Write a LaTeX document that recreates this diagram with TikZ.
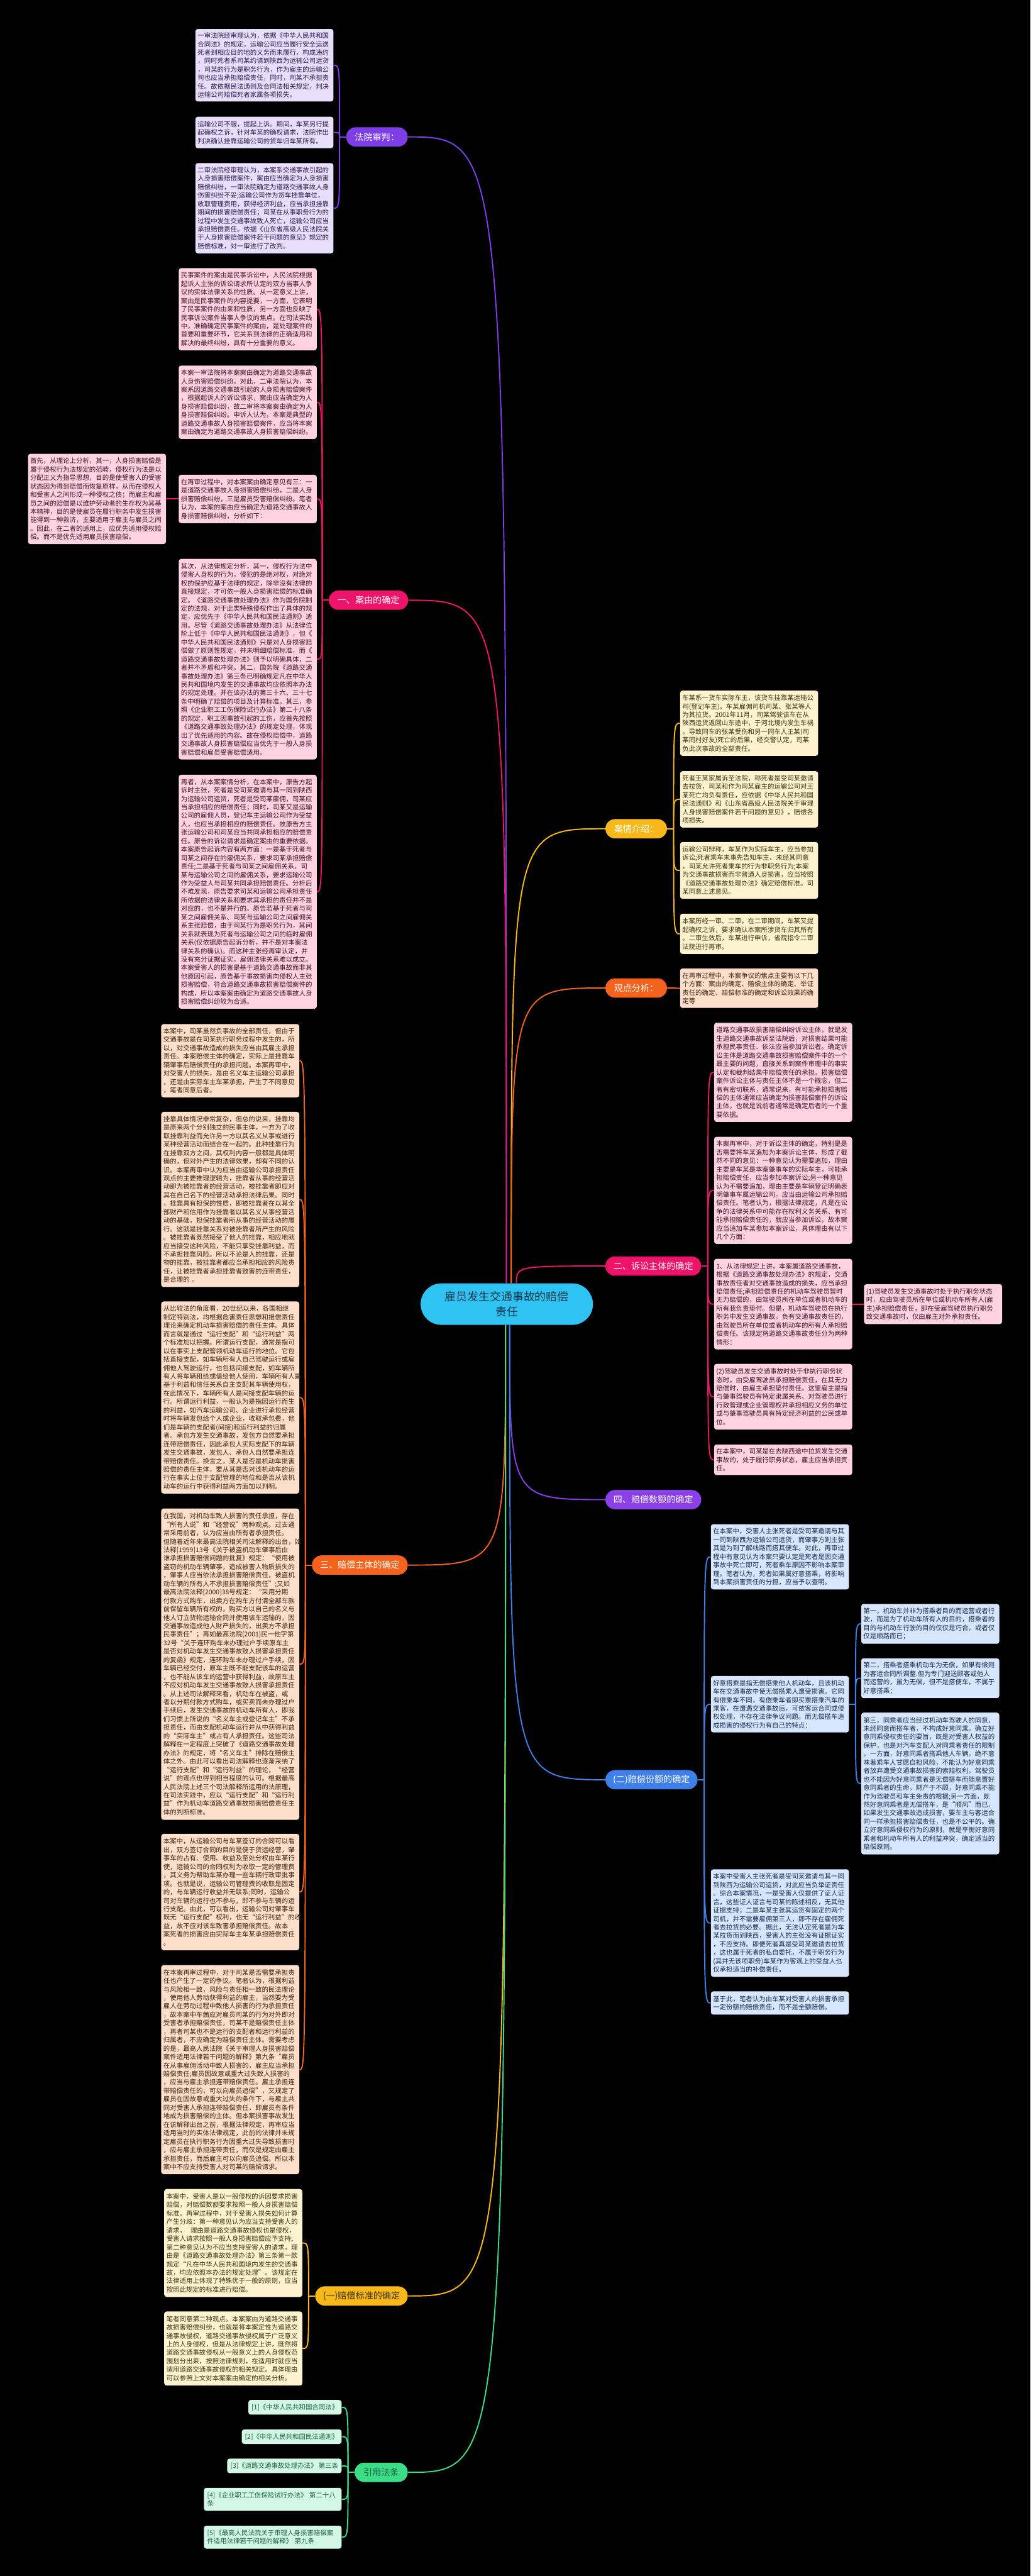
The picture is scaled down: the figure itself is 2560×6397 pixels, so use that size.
\documentclass[tikz,border=0pt]{standalone}
\usepackage{fontspec}
\setmainfont{Noto Sans CJK SC}
\definecolor{cpur}{HTML}{7D3EE6}
\definecolor{cpur2}{HTML}{8A40E6}
\definecolor{fpur}{HTML}{E8DEFB}
\definecolor{tpur}{HTML}{2A1848}
\definecolor{cpink}{HTML}{EE1469}
\definecolor{fpink}{HTML}{FFD2E2}
\definecolor{tpink}{HTML}{3D1224}
\definecolor{corg}{HTML}{F4621E}
\definecolor{forg}{HTML}{FEDFCB}
\definecolor{torg}{HTML}{3D2012}
\definecolor{camb}{HTML}{F8B819}
\definecolor{famb}{HTML}{FFF2CE}
\definecolor{tamb}{HTML}{3A3010}
\definecolor{cgrn}{HTML}{3CDD87}
\definecolor{fgrn}{HTML}{D3F7E5}
\definecolor{tgrn}{HTML}{17603E}
\definecolor{cblu}{HTML}{3F7FEA}
\definecolor{fblu}{HTML}{D7E6FD}
\definecolor{tblu}{HTML}{172A4D}
\definecolor{ccyan}{HTML}{2FC3F4}
\definecolor{tcyan}{HTML}{18384A}
\newcommand\bfnt{\fontsize{8.15pt}{10.5pt}\selectfont}
\newcommand\lfnt{\fontsize{11pt}{13pt}\selectfont}
\newcommand\cfnt{\fontsize{14pt}{19pt}\selectfont}
\newcommand\kidl[3]{\draw[con,#1] (#2) .. controls (#2 |- #3.east) .. (#3.east);}
\newcommand\kidr[3]{\draw[con,#1] (#2) .. controls (#2 |- #3.west) .. (#3.west);}
\begin{document}
\begin{tikzpicture}[x=0.5pt,y=-0.5pt,
 box/.style={rectangle,rounded corners=3pt,align=left,text width=166pt,inner xsep=2.75pt,inner ysep=0pt,font=\bfnt},
 bpur/.style={box,fill=fpur,text=tpur},
 bpink/.style={box,fill=fpink,text=tpink},
 borg/.style={box,fill=forg,text=torg},
 bamb/.style={box,fill=famb,text=tamb},
 bblu/.style={box,fill=fblu,text=tblu},
 gbox/.style={rectangle,rounded corners=3pt,inner xsep=4pt,inner ysep=0pt,minimum height=18pt,fill=fgrn,text=tgrn,font=\bfnt,anchor=east},
 lab/.style={rectangle,rounded corners=12pt,minimum height=24pt,inner xsep=0pt,font=\lfnt,text=white},
 con/.style={line width=1.5pt}]
\useasboundingbox (0,0) rectangle (2560,6397);
\fill[black] (0,0) rectangle (2560,6397);

% ---------- center ----------
\node[rectangle,rounded corners=25.7pt,fill=ccyan,text=tcyan,minimum width=214pt,minimum height=51.5pt,align=center,font=\cfnt] (ctr) at (1259,3238.5) {雇员发生交通事故的赔偿\\责任};

% ---------- labels ----------
\node[lab,fill=cpur,minimum width=76.5pt] (Lfy) at (936.5,340) {法院审判：};
\node[lab,fill=cpink,minimum width=98.5pt] (L1) at (915.5,1490.5) {一、案由的确定};
\node[lab,fill=corg,minimum width=119pt] (L3) at (894,3886.5) {三、赔偿主体的确定};
\node[lab,fill=camb,text=tamb,minimum width=115pt] (Lb1) at (898,5701.5) {(一)赔偿标准的确定};
\node[lab,fill=cgrn,text=tgrn,minimum width=66pt] (Lyy) at (947,6139.5) {引用法条};
\node[lab,fill=camb,minimum width=76.5pt] (Laq) at (1580.5,2058) {案情介绍：};
\node[lab,fill=corg,minimum width=76.5pt] (Lgd) at (1580.5,2453.5) {观点分析：};
\node[lab,fill=cpink,minimum width=119pt] (L2) at (1623,3144) {二、诉讼主体的确定};
\node[lab,fill=cpur2,minimum width=119pt] (L4) at (1623,3724) {四、赔偿数额的确定};
\node[lab,fill=cblu,minimum width=114.5pt] (Lb2) at (1618.5,4419.5) {(二)赔偿份额的确定};

% ---------- 法院审判 ----------
\node[bpur,minimum height=90pt] (P1) at (657,162) {一审法院经审理认为，依据《中华人民共和国\\合同法》的规定，运输公司应当履行安全运送\\死者到相应目的地的义务而未履行，构成违约\\，同时死者系司某约请到陕西为运输公司运货\\，司某的行为是职务行为，作为雇主的运输公\\司也应当承担赔偿责任，同时，司某不承担责\\任。故依据民法通则及合同法相关规定，判决\\运输公司赔偿死者家属各项损失。};
\node[bpur,minimum height=39pt] (P2) at (657,329) {运输公司不服，提起上诉。期间，车某另行提\\起确权之诉，针对车某的确权请求，法院作出\\判决确认挂靠运输公司的货车归车某所有。};
\node[bpur,minimum height=112pt] (P3) at (657,517) {二审法院经审理认为，本案系交通事故引起的\\人身损害赔偿案件，案由应当确定为人身损害\\赔偿纠纷，一审法院确定为道路交通事故人身\\伤害纠纷不妥;运输公司作为货车挂靠单位，\\收取管理费用，获得经济利益，应当承担挂靠\\期间的损害赔偿责任；司某在从事职务行为的\\过程中发生交通事故致人死亡，运输公司应当\\承担赔偿责任。依据《山东省高级人民法院关\\于人身损害赔偿案件若干问题的意见》规定的\\赔偿标准，对一审进行了改判。};

% ---------- 一、案由的确定 ----------
\node[bpink,minimum height=102pt] (K1) at (615.5,768) {民事案件的案由是民事诉讼中，人民法院根据\\起诉人主张的诉讼请求所认定的双方当事人争\\议的实体法律关系的性质。从一定意义上讲，\\案由是民事案件的内容提要，一方面，它表明\\了民事案件的由来和性质，另一方面也反映了\\民事诉讼案件当事人争议的焦点。在司法实践\\中，准确确定民事案件的案由，是处理案件的\\首要和重要环节，它关系到法律的正确适用和\\解决的最终纠纷，具有十分重要的意义。};
\node[bpink,minimum height=91pt] (K2) at (615.5,999) {本案一审法院将本案案由确定为道路交通事故\\人身伤害赔偿纠纷。对此，二审法院认为，本\\案系因道路交通事故引起的人身损害赔偿案件\\，根据起诉人的诉讼请求，案由应当确定为人\\身损害赔偿纠纷，故二审将本案案由确定为人\\身损害赔偿纠纷。申诉人认为，本案是典型的\\道路交通事故人身损害赔偿案件，应当将本案\\案由确定为道路交通事故人身损害赔偿纠纷。};
\node[bpink,minimum height=60pt] (K3) at (615.5,1239) {在再审过程中，对本案案由确定意见有三：一\\是道路交通事故人身损害赔偿纠纷，二是人身\\损害赔偿纠纷，三是雇员受害赔偿纠纷。笔者\\认为，本案的案由应当确定为道路交通事故人\\身损害赔偿纠纷，分析如下：};
\node[bpink,minimum height=112pt] (K3a) at (241,1239) {首先，从理论上分析，其一，人身损害赔偿是\\属于侵权行为法规定的范畴，侵权行为法是以\\分配正义为指导思想，目的是使受害人的受害\\状态因为得到赔偿而恢复原样，从而在侵权人\\和受害人之间形成一种侵权之债；而雇主和雇\\员之间的赔偿是以维护劳动者的生存权为其基\\本精神，目的是使雇员在履行职务中发生损害\\能得到一种救济，主要适用于雇主与雇员之间\\。因此，在二者的适用上，应优先适用侵权赔\\偿。而不是优先适用雇员损害赔偿。};
\node[bpink,minimum height=249pt] (K4) at (615.5,1637) {其次，从法律规定分析，其一，侵权行为法中\\侵害人身权的行为，侵犯的是绝对权，对绝对\\权的保护应基于法律的规定，除非没有法律的\\直接规定，才可依一般人身损害赔偿的标准确\\定。《道路交通事故处理办法》作为国务院制\\定的法规，对于此类特殊侵权作出了具体的规\\定，应优先于《中华人民共和国民法通则》适\\用。尽管《道路交通事故处理办法》从法律位\\阶上低于《中华人民共和国民法通则》，但《\\中华人民共和国民法通则》只是对人身损害赔\\偿做了原则性规定，并未明细赔偿标准，而《\\道路交通事故处理办法》则予以明确具体，二\\者并不矛盾和冲突。其二，国务院《道路交通\\事故处理办法》第三条已明确规定凡在中华人\\民共和国境内发生的交通事故均应依照本办法\\的规定处理。并在该办法的第三十六、三十七\\条中明确了赔偿的项目及计算标准。其三，参\\照《企业职工工伤保险试行办法》第二十八条\\的规定，职工因事故引起的工伤，应首先按照\\《道路交通事故处理办法》的规定处理，体现\\出了优先适用的内容。故在侵权赔偿中，道路\\交通事故人身损害赔偿应当优先于一般人身损\\害赔偿和雇员受害赔偿适用。};
\node[bpink,minimum height=290.5pt] (K5) at (615.5,2214.5) {再者，从本案案情分析，在本案中，原告方起\\诉时主张，死者是受司某邀请与其一同到陕西\\为运输公司运货，死者是受司某雇佣，司某应\\当承担相应的赔偿责任；同时，司某又是运输\\公司的雇佣人员，登记车主运输公司作为受益\\人，也应当承担相应的赔偿责任。故原告方主\\张运输公司和司某应当共同承担相应的赔偿责\\任。原告的诉讼请求是确定案由的重要依据。\\本案原告起诉内容有两方面：一是基于死者与\\司某之间存在的雇佣关系，要求司某承担赔偿\\责任;二是基于死者与司某之间雇佣关系、司\\某与运输公司之间的雇佣关系，要求运输公司\\作为受益人与司某共同承担赔偿责任。分析后\\不难发现，原告要求司某和运输公司承担责任\\所依据的法律关系和要求其承担的责任并不是\\对应的，也不是并行的。原告若基于死者与司\\某之间雇佣关系、司某与运输公司之间雇佣关\\系主张赔偿，由于司某行为是职务行为，其间\\关系就表现为死者与运输公司之间的临时雇佣\\关系(仅依据原告起诉分析，并不是对本案法\\律关系的确认)。而这种主张经再审认定，并\\没有充分证据证实，雇佣法律关系难以成立。\\本案受害人的损害是基于道路交通事故而非其\\他原因引起，原告基于事故损害向侵权人主张\\损害赔偿，符合道路交通事故损害赔偿案件的\\构成，所以本案案由确定为道路交通事故人身\\损害赔偿纠纷较为合适。};

% ---------- 三、赔偿主体的确定 ----------
\node[borg,minimum height=91pt] (O1) at (572,2634) {本案中，司某虽然负事故的全部责任，但由于\\交通事故是在司某执行职务过程中发生的，所\\以，对交通事故造成的损失应当由其雇主承担\\责任。本案赔偿主体的确定，实际上是挂靠车\\辆肇事后赔偿责任的承担问题。本案再审中，\\对受害人的损失，是由名义车主运输公司承担\\，还是由实际车主车某承担，产生了不同意见\\，笔者同意后者。};
\node[borg,minimum height=217.5pt] (O2) at (572,2978.5) {挂靠具体情况非常复杂，但总的说来，挂靠均\\是原来两个分别独立的民事主体，一方为了收\\取挂靠利益而允许另一方以其名义从事或进行\\某种经营活动而结合在一起的。此种挂靠行为\\在挂靠双方之间，其权利内容一般都是具体明\\确的，但对外产生的法律效果，却有不同的认\\识。本案再审中认为应当由运输公司承担责任\\观点的主要推理逻辑为，挂靠者从事的经营活\\动即为被挂靠者的经营活动，被挂靠者即应对\\其在自己名下的经营活动承担法律后果。同时\\，挂靠具有担保的性质，即被挂靠者在以其全\\部财产和信用作为挂靠者以其名义从事经营活\\动的基础，担保挂靠者所从事的经营活动的履\\行。这就是挂靠关系对被挂靠者所产生的风险\\。被挂靠者既然接受了他人的挂靠，相应地就\\应当接受这种风险，不能只享受挂靠利益，而\\不承担挂靠风险。所以不论是人的挂靠，还是\\物的挂靠，被挂靠者都应当承担相应的风险责\\任，让被挂靠者承担挂靠者致害的连带责任，\\是合理的 。};
\node[borg,minimum height=238.5pt] (O3) at (572,3470.5) {从比较法的角度看，20世纪以来，各国相继\\制定特别法，均根据危害责任思想和报偿责任\\理论来确定机动车损害赔偿的责任主体。具体\\而言就是通过“运行支配”和“运行利益”两\\个标准加以把握。所谓运行支配，通常是指可\\以在事实上支配管领机动车运行的地位。它包\\括直接支配，如车辆所有人自己驾驶运行或雇\\佣他人驾驶运行，也包括间接支配，如车辆所\\有人将车辆租给或借给他人使用，车辆所有人是\\基于利益和信任关系自主支配其车辆使用权，\\在此情况下，车辆所有人是间接支配车辆的运\\行。所谓运行利益，一般认为是指因运行而生\\的利益，如汽车运输公司、企业进行承包经营\\时将车辆发包给个人或企业，收取承包费，他\\们是车辆的支配者(间接)和运行利益的归属\\者。承包方发生交通事故，发包方自然要承担\\连带赔偿责任，因此承包人实际支配下的车辆\\发生交通事故，发包人、承包人自然要承担连\\带赔偿责任。换言之，某人是否是机动车损害\\赔偿的责任主体，要从其是否对该机动车的运\\行在事实上位于支配管理的地位和是否从该机\\动车的运行中获得利益两方面加以判明。};
\node[borg,minimum height=386.5pt] (O4) at (572,4132.5) {在我国，对机动车致人损害的责任承担，存在\\“所有人说”和“经营说”两种观点。过去通\\常采用前者，认为应当由所有者承担责任。\\但随着近年来最高法院相关司法解释的出台，如\\法释[1999]13号《关于被盗机动车肇事后由\\谁承担损害赔偿问题的批复》规定：“使用被\\盗窃的机动车辆肇事，造成被害人物质损失的\\，肇事人应当依法承担损害赔偿责任，被盗机\\动车辆的所有人不承担损害赔偿责任”;又如\\最高法院法释[2000]38号规定：“采用分期\\付款方式购车，出卖方在购车方付清全部车款\\前保留车辆所有权的，购买方以自己的名义与\\他人订立货物运输合同并使用该车运输的，因\\交通事故造成他人财产损失的，出卖方不承担\\民事责任”；再如最高法院(2001)民一他字第\\32号“关于连环购车未办理过户手续原车主\\是否对机动车发生交通事故致人损害承担责任\\的复函》规定，连环购车未办理过户手续，因\\车辆已经交付，原车主既不能支配该车的运营\\，也不能从该车的运营中获得利益，故原车主\\不应对机动车发生交通事故致人损害承担责任\\。从上述司法解释来看，机动车在被盗，或\\者以分期付款方式购车，或买卖而未办理过户\\手续后，发生交通事故的机动车所有人，即我\\们习惯上所说的“名义车主或登记车主”不承\\担责任，而由支配机动车运行并从中获得利益\\的“实际车主”或占有人承担责任。这些司法\\解释在一定程度上突破了《道路交通事故处理\\办法》的规定，将“名义车主”排除在赔偿主\\体之外。由此可以看出司法解释也逐渐采纳了\\“运行支配”和“运行利益”的理论，“经营\\说”的观点也得到相当程度的认可。根据最高\\人民法院上述三个司法解释所运用的法原理，\\在司法实践中，应以“运行支配”和“运行利\\益”作为机动车道路交通事故损害赔偿责任主\\体的判断标准。};
\node[borg,minimum height=144.5pt] (O5) at (572,4698.5) {本案中，从运输公司与车某签订的合同可以看\\出，双方签订合同的目的是便于货运经营，肇\\事车的占有、使用、收益及至处分权由车某行\\使，运输公司的合同权利为收取一定的管理费\\，其义务为帮助车某办理一些车辆行政审批事\\项。也就是说，运输公司管理费的收取是固定\\的，与车辆运行收益并无联系;同时，运输公\\司对车辆的运行也不参与，即不参与车辆的运\\行支配。由此，可以看出，运输公司对肇事车\\既无“运行支配”权利，也无“运行利益”的收\\益，故不应对该车致害承担赔偿责任。故本\\案死者的损害应由实际车主车某承担赔偿责任\\。};
\node[borg,minimum height=259.5pt] (O6) at (572,5139.5) {在本案再审过程中，对于司某是否需要承担责\\任也产生了一定的争议。笔者认为，根据利益\\与风险相一致，风险与责任相一致的民法理论\\，使用他人劳动获得利益的雇主，当然要为受\\雇人在劳动过程中致他人损害的行为承担责任\\，故本案中车茜应对雇员司某的行为对外即对\\受害者承担赔偿责任，司某不是赔偿责任主体\\，再者司某也不是运行的支配者和运行利益的\\归属者，不应确定为赔偿责任主体。需要考虑\\的是，最高人民法院《关于审理人身损害赔偿\\案件适用法律若干问题的解释》第九条“雇员\\在从事雇佣活动中致人损害的，雇主应当承担\\赔偿责任;雇员因故意或重大过失致人损害的\\，应当与雇主承担连带赔偿责任。雇主承担连\\带赔偿责任的，可以向雇员追偿”，又规定了\\雇员在因故意或重大过失的条件下，与雇主共\\同对受害人承担连带赔偿责任，即雇员有条件\\地成为损害赔偿的主体。但本案损害事故发生\\在该解释出台之前，根据法律规定，再审应当\\适用当时的实体法律规定，此前的法律并未规\\定雇员在执行职务行为因重大过失导致损害时\\，应与雇主承担连带责任，而仅是规定由雇主\\承担责任，而后雇主可以向雇员追偿。所以本\\案中不应支持受害人对司某的赔偿请求。};

% ---------- (一)赔偿标准的确定 ----------
\node[bamb,minimum height=134pt] (Y1) at (579.5,5570) {本案中，受害人是以一般侵权的诉因要求损害\\赔偿，对赔偿数额要求按照一般人身损害赔偿\\标准。再审过程中，对于受害人损失如何计算\\产生分歧：第一种意见认为应当支持受害人的\\请求，\ \ 理由是道路交通事故侵权也是侵权，\\受害人请求按照一般人身损害赔偿应予支持;\\第二种意见认为不应当支持受害人的请求，理\\由是《道路交通事故处理办法》第三条第一款\\规定“凡在中华人民共和国境内发生的交通事\\故，均应依照本办法的规定处理”。该规定在\\法律适用上体现了特殊优于一般的原则，应当\\按照此规定的标准进行赔偿。};
\node[bamb,minimum height=92pt] (Y2) at (579.5,5832) {笔者同意第二种观点。本案案由为道路交通事\\故损害赔偿纠纷，也就是将本案定性为道路交\\通事故侵权，道路交通事故侵权属于广泛意义\\上的人身侵权，但是从法律规定上讲，既然将\\道路交通事故侵权从一般意义上的人身侵权范\\围划分出来，按照法律规则，在适用时就应当\\适用道路交通事故侵权的相关规定。具体理由\\可以参照上文对本案案由确定的相关分析。};

% ---------- 引用法条 ----------
\node[gbox] (R1) at (849,5978) {[1]《中华人民共和国合同法》};
\node[gbox] (R2) at (849,6051) {[2]《中华人民共和国民法通则》};
\node[gbox] (R3) at (849,6123.5) {[3]《道路交通事故处理办法》 第三条};
\node[gbox,text width=163pt,align=left,minimum height=28.5pt] (R4) at (849,6206.5) {[4]《企业职工工伤保险试行办法》 第二十八\\条};
\node[gbox,text width=163pt,align=left,minimum height=28.5pt] (R5) at (849,6300.5) {[5]《最高人民法院关于审理人身损害赔偿案\\件适用法律若干问题的解释》 第九条};

% ---------- 案情介绍 ----------
\node[bamb,minimum height=81pt] (A1) at (1861,1796) {车某系一货车实际车主，该货车挂靠某运输公\\司(登记车主)。车某雇佣司机司某、张某等人\\为其拉货。2001年11月，司某驾驶该车在从\\陕西运货返回山东途中，于河北境内发生车祸\\，导致同车的张某受伤和另一同车人王某(司\\某同村好友)死亡的后果，经交警认定，司某\\负此次事故的全部责任。};
\node[bamb,minimum height=70pt] (A2) at (1861,1985) {死者王某家属诉至法院，称死者是受司某邀请\\去拉货，司某和作为司某雇主的运输公司对王\\某死亡均负有责任，应依据《中华人民共和国\\民法通则》和《山东省高级人民法院关于审理\\人身损害赔偿案件若干问题的意见》，赔偿各\\项损失。};
\node[bamb,minimum height=70.5pt] (A3) at (1861,2161.5) {运输公司辩称，车某作为实际车主，应当参加\\诉讼;死者乘车未事先告知车主、未经其同意\\，司某允许死者乘车的行为非职务行为;本案\\为交通事故损害而非普通人身损害，应当按照\\《道路交通事故处理办法》确定赔偿标准。司\\某同意上述意见。};
\node[bamb,minimum height=50pt] (A4) at (1861,2319) {本案历经一审、二审，在二审期间，车某又提\\起确权之诉，要求确认本案所涉货车归其所有\\。二审生效后，车某进行申诉，省院指令二审\\法院进行再审。};

% ---------- 观点分析 ----------
\node[borg,minimum height=49pt] (B1) at (1861,2454) {在再审过程中，本案争议的焦点主要有以下几\\个方面：案由的确定、赔偿主体的确定、举证\\责任的确定、赔偿标准的确定和诉讼效果的确\\定等};

% ---------- 二、诉讼主体的确定 ----------
\node[bpink,minimum height=123pt] (C1) at (1945.5,2663) {道路交通事故损害赔偿纠纷诉讼主体，就是发\\生道路交通事故诉至法院后，对损害结果可能\\承担民事责任、依法应当参加诉讼者。确定诉\\讼主体是道路交通事故损害赔偿案件中的一个\\最主要的问题，直接关系到案件审理中的事实\\认定和裁判结果中赔偿责任的承担。损害赔偿\\案件诉讼主体与责任主体不是一个概念，但二\\者有密切联系，通常说来，有可能承担损害赔\\偿的主体通常应当确定为损害赔偿案件的诉讼\\主体，也就是说前者通常是确定后者的一个重\\要依据。};
\node[bpink,minimum height=133pt] (C2) at (1945.5,2956) {本案再审中，对于诉讼主体的确定，特别是是\\否需要将车某追加为本案诉讼主体，形成了截\\然不同的意见：一种意见认为需要追加，理由\\主要是车某是本案肇事车的实际车主，可能承\\担赔偿责任，应当参加本案诉讼;另一种意见\\认为不需要追加，理由主要是车辆登记明确表\\明肇事车属运输公司，应当由运输公司承担赔\\偿责任。笔者认为，根据法律规定，凡是在讼\\争的法律关系中可能存在权利义务关系、有可\\能承担赔偿责任的，就应当参加诉讼，故本案\\应当追加车某参加本案诉讼，具体理由有以下\\几个方面：};
\node[bpink,minimum height=112.5pt] (C3) at (1945.5,3238.5) {1、从法律规定上讲，本案属道路交通事故，\\根据《道路交通事故处理办法》的规定，交通\\事故责任者对交通事故造成的损失，应当承担\\赔偿责任;承担赔偿责任的机动车驾驶员暂时\\无力赔偿的，由驾驶员所在单位或者机动车的\\所有我负责垫付。但是，机动车驾驶员在执行\\职务中发生交通事故，负有交通事故责任的，\\由驾驶员所在单位或者机动车的所有人承担赔\\偿责任。该规定将道路交通事故责任分为两种\\情形：};
\node[bpink,minimum height=49.5pt] (C3a) at (2318,3238.5) {(1)驾驶员发生交通事故时处于执行职务状态\\时，应由驾驶员所在单位或机动车所有人(雇\\主)承担赔偿责任，即在受雇驾驶员执行职务\\致交通事故时，仅由雇主对外承担责任。};
\node[bpink,minimum height=81.5pt] (C4) at (1945.5,3468.5) {(2)驾驶员发生交通事故时处于非执行职务状\\态时，由受雇驾驶员承担赔偿责任，在其无力\\赔偿时，由雇主承担垫付责任。这里雇主是指\\与肇事驾驶员有特定隶属关系、对驾驶员进行\\行政管理或企业管理权并承担相应义务的单位\\或与肇事驾驶员具有特定经济利益的公民或单\\位。};
\node[bpink,minimum height=38pt] (C5) at (1945.5,3625) {在本案中，司某是在去陕西途中拉货发生交通\\事故的，处于履行职务状态，雇主应当承担责\\任。};

% ---------- (二)赔偿份额的确定 ----------
\node[bblu,minimum height=81pt] (D1) at (1937.5,3866) {在本案中，受害人主张死者是受司某邀请与其\\一同到陕西为运输公司运货，而肇事方则主张\\其是为到了解线路而搭其便车。对此，再审过\\程中有意见认为本案只要认定是死者是因交通\\事故中死亡即可，死者乘车原因不影响本案审\\理。笔者认为，死者如果属好意搭乘，将影响\\到本案损害责任的分担，应当予以查明。};
\node[bblu,minimum height=70pt] (D2) at (1937.5,4232) {好意搭乘是指无偿搭乘他人机动车，且该机动\\车在交通事故中使无偿搭乘人遭受损害。它同\\有偿乘车不同，有偿乘车者即买票搭乘汽车的\\乘客，在遭遇交通事故后，可依客运合同或侵\\权处理，不存在法律争议问题。而无偿搭车造\\成损害的侵权行为有自己的特点：};
\node[bblu,minimum height=49.5pt] (D2a) at (2311,4032.5) {第一，机动车并非为搭乘者目的而运营或者行\\驶，而是为了机动车所有人的目的，搭乘者的\\目的与机动车行驶的目的仅仅是巧合，或者仅\\仅是顺路而已；};
\node[bblu,minimum height=49.5pt] (D2b) at (2311,4167.5) {第二，搭乘者搭乘机动车为无偿，如果有偿则\\为客运合同所调整.但为专门迎送顾客或他人\\而运营的，虽为无偿，但不是搭便车，不属于\\好意搭乘；};
\node[bblu,minimum height=176pt] (D2c) at (2311,4429) {第三，同乘者应当经过机动车驾驶人的同意，\\未经同意而搭车者，不构成好意同乘。确立好\\意同乘侵权责任的要旨，既是对受害人权益的\\保护，也是对汽车支配人对同乘者责任的限制\\。一方面，好意同乘者搭乘他人车辆，绝不意\\味着乘车人甘愿自担风险，不能认为好意同乘\\者放弃遭受交通事故损害的索赔权利，驾驶员\\也不能因为好意同乘者是无偿搭车而随意置好\\意同乘者的生命，财产于不顾，好意同乘不能\\作为驾驶员和车主免责的根据;另一方面，既\\然好意同乘者是无偿搭车，是“顺风”而已，\\如果发生交通事故造成损害，要车主与客运合\\同一样承担损害赔偿责任，也是不公平的。确\\立好意同乘侵权行为的原则，就是平衡好意同\\乘者和机动车所有人的利益冲突，确定适当的\\赔偿原则。};
\node[bblu,minimum height=133.5pt] (D3) at (1937.5,4775.5) {本案中受害人主张死者是受司某邀请与其一同\\到陕西为运输公司运货，对此应当负举证责任\\。综合本案情况，一是受害人仅提供了证人证\\言，这些证人证言与司某的陈述相反，无其他\\证据支持；二是车某主张其运货有固定的两个\\司机，并不需要雇佣第三人，即不存在雇佣死\\者去拉货的必要。据此，无法认定死者是为车\\某拉货而到陕西，受害人的主张没有证据证实\\，不应支持。即便死者真是受司某邀请去拉货\\，这也属于死者的私自委托，不属于职务行为\\(其并无该项职务)车某作为客观上的受益人也\\仅承担适当的补偿责任。};
\node[bblu,minimum height=29pt] (D4) at (1937.5,4974) {基于此，笔者认为由车某对受害人的损害承担\\一定份额的赔偿责任，而不是全额赔偿。};

% ---------- connector coordinates ----------
\coordinate (cT1) at ([xshift=-0.5pt]ctr.north);
\coordinate (cT2) at ([xshift=5.5pt]ctr.north);
\coordinate (cT3) at ([xshift=12pt]ctr.north);
\coordinate (cB1) at ([xshift=-1.5pt]ctr.south);
\coordinate (cB2) at ([xshift=3.5pt]ctr.south);
\coordinate (Sfy) at ([xshift=-8pt]Lfy.west);
\coordinate (S1) at ([xshift=-8pt]L1.west);
\coordinate (S3) at ([xshift=-8pt]L3.west);
\coordinate (Sb1) at ([xshift=-8pt]Lb1.west);
\coordinate (Syy) at ([xshift=-8pt]Lyy.west);
\coordinate (Saq) at ([xshift=8pt]Laq.east);
\coordinate (S2) at ([xshift=8pt]L2.east);
\coordinate (Sb2) at ([xshift=8pt]Lb2.east);
\coordinate (SD2) at ([xshift=8pt]D2.east);

% ---------- main connectors ----------
\draw[con,cpur] (Lfy.east) .. controls (cT1 |- Lfy.east) .. (cT1);
\draw[con,cpink] (L1.east) .. controls (cT1 |- L1.east) .. (cT1);
\draw[con,camb] (cT2) .. controls (cT2 |- Laq.west) .. (Laq.west);
\draw[con,corg] (cT2) .. controls (cT2 |- Lgd.west) .. (Lgd.west);
\draw[con,cpink] (cT3) .. controls (cT3 |- L2.west) .. (L2.west);
\draw[con,corg] (cB1) .. controls (cB1 |- L3.east) .. (L3.east);
\draw[con,camb] (cB1) .. controls (cB1 |- Lb1.east) .. (Lb1.east);
\draw[con,cgrn] (cB1) .. controls (cB1 |- Lyy.east) .. (Lyy.east);
\draw[con,cpur2] (cB2) .. controls (cB2 |- L4.west) .. (L4.west);
\draw[con,cblu] (cB2) .. controls (cB2 |- Lb2.west) .. (Lb2.west);

% ---------- child connectors ----------
\draw[con,cpur] (Lfy.west) -- (Sfy);
\kidl{cpur}{Sfy}{P1}\kidl{cpur}{Sfy}{P2}\kidl{cpur}{Sfy}{P3}
\draw[con,cpink] (L1.west) -- (S1);
\kidl{cpink}{S1}{K1}\kidl{cpink}{S1}{K2}\kidl{cpink}{S1}{K3}\kidl{cpink}{S1}{K4}\kidl{cpink}{S1}{K5}
\draw[con,cpink] (K3.west) -- (K3a.east);
\draw[con,corg] (L3.west) -- (S3);
\kidl{corg}{S3}{O1}\kidl{corg}{S3}{O2}\kidl{corg}{S3}{O3}\kidl{corg}{S3}{O4}\kidl{corg}{S3}{O5}\kidl{corg}{S3}{O6}
\draw[con,camb] (Lb1.west) -- (Sb1);
\kidl{camb}{Sb1}{Y1}\kidl{camb}{Sb1}{Y2}
\draw[con,cgrn] (Lyy.west) -- (Syy);
\kidl{cgrn}{Syy}{R1}\kidl{cgrn}{Syy}{R2}\kidl{cgrn}{Syy}{R3}\kidl{cgrn}{Syy}{R4}\kidl{cgrn}{Syy}{R5}
\draw[con,camb] (Laq.east) -- (Saq);
\kidr{camb}{Saq}{A1}\kidr{camb}{Saq}{A2}\kidr{camb}{Saq}{A3}\kidr{camb}{Saq}{A4}
\draw[con,corg] (Lgd.east) -- (B1.west);
\draw[con,cpink] (L2.east) -- (S2);
\kidr{cpink}{S2}{C1}\kidr{cpink}{S2}{C2}\kidr{cpink}{S2}{C3}\kidr{cpink}{S2}{C4}\kidr{cpink}{S2}{C5}
\draw[con,cpink] (C3.east) -- (C3a.west);
\draw[con,cblu] (Lb2.east) -- (Sb2);
\kidr{cblu}{Sb2}{D1}\kidr{cblu}{Sb2}{D2}\kidr{cblu}{Sb2}{D3}\kidr{cblu}{Sb2}{D4}
\draw[con,cblu] (D2.east) -- (SD2);
\kidr{cblu}{SD2}{D2a}\kidr{cblu}{SD2}{D2b}\kidr{cblu}{SD2}{D2c}
\end{tikzpicture}
\end{document}
